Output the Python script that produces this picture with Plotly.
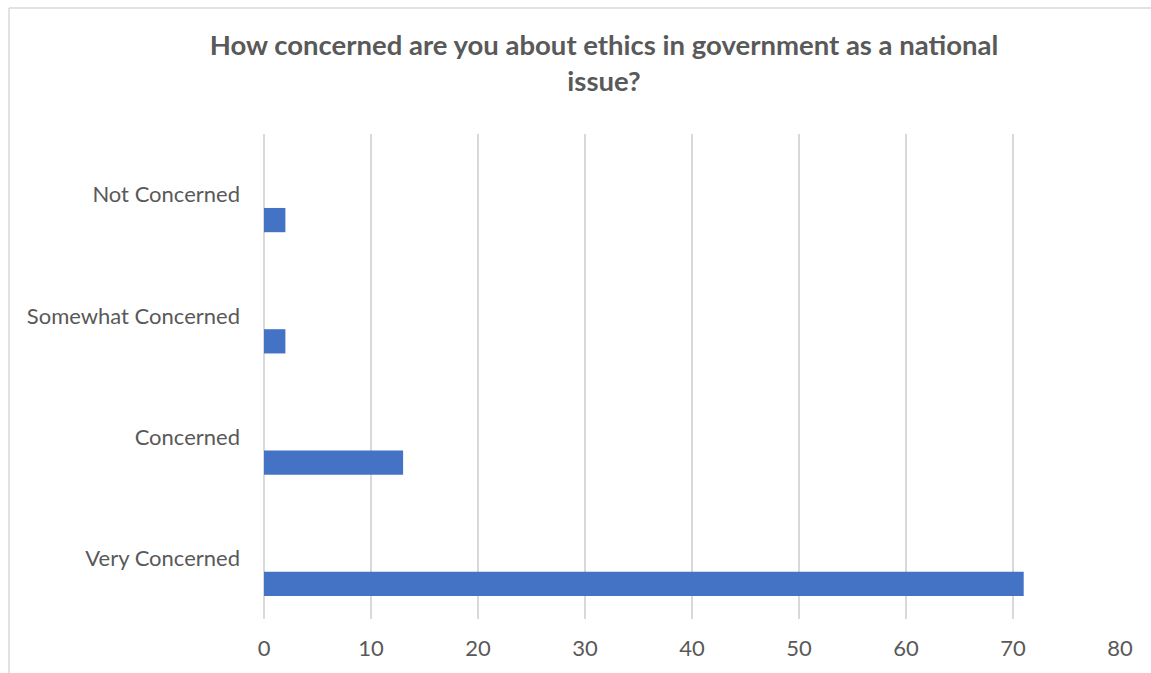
import plotly.graph_objects as go

categories = ["Very Concerned", "Concerned", "Somewhat Concerned", "Not Concerned"]
values = [71, 13, 2, 2]
x_ticks = [0, 10, 20, 30, 40, 50, 60, 70, 80]

fig = go.Figure()
fig.add_trace(go.Bar(
    y=categories, x=values, orientation="h",
    marker=dict(color="#4472C4", line=dict(width=0)),
    width=0.2, offset=-0.31,
    hoverinfo="x+y",
))

W, H = 1151, 673
L, R, T, B = 264, 1120, 134, 619
pw, ph = R - L, B - T

def px(x):
    return (x - L) / pw

def py(y):
    return (B - y) / ph

fig.add_shape(type="line", xref="paper", yref="paper",
              x0=px(9), x1=px(1160), y0=py(8), y1=py(8),
              line=dict(color="#D9D9D9", width=1.5))
fig.add_shape(type="line", xref="paper", yref="paper",
              x0=px(9), x1=px(9), y0=py(8), y1=py(680),
              line=dict(color="#D9D9D9", width=1.5))

fig.update_layout(
    width=W, height=H,
    margin=dict(l=L, r=W - R, t=T, b=H - B, pad=0),
    paper_bgcolor="white", plot_bgcolor="white",
    showlegend=False,
    title=dict(
        text="<b>How concerned are you about ethics in government as a national<br>issue?</b>",
        x=604 / W, xref="container", xanchor="center",
        y=1 - 55 / H, yanchor="middle",
        font=dict(family="Lato, Open Sans, sans-serif", size=27.5, color="#595959"),
    ),
    font=dict(family="Lato, Open Sans, sans-serif", size=22, color="#595959"),
    xaxis=dict(
        range=[0, 80], tickvals=x_ticks, showgrid=True,
        gridcolor="#D9D9D9", gridwidth=1.5,
        zeroline=True, zerolinecolor="#D9D9D9", zerolinewidth=1.5,
        showline=False, ticks="", ticklabelstandoff=14,
        tickfont=dict(size=22, color="#595959"),
    ),
    yaxis=dict(
        type="category", categoryorder="array", categoryarray=categories,
        range=[-0.5, 3.5], showgrid=False, zeroline=False, showline=False,
        ticks="", ticklabelstandoff=23,
        tickfont=dict(size=22, color="#595959"),
    ),
)

fig.write_html("out.html", config={"displayModeBar": False},
               post_script="document.body.style.margin='0';")
